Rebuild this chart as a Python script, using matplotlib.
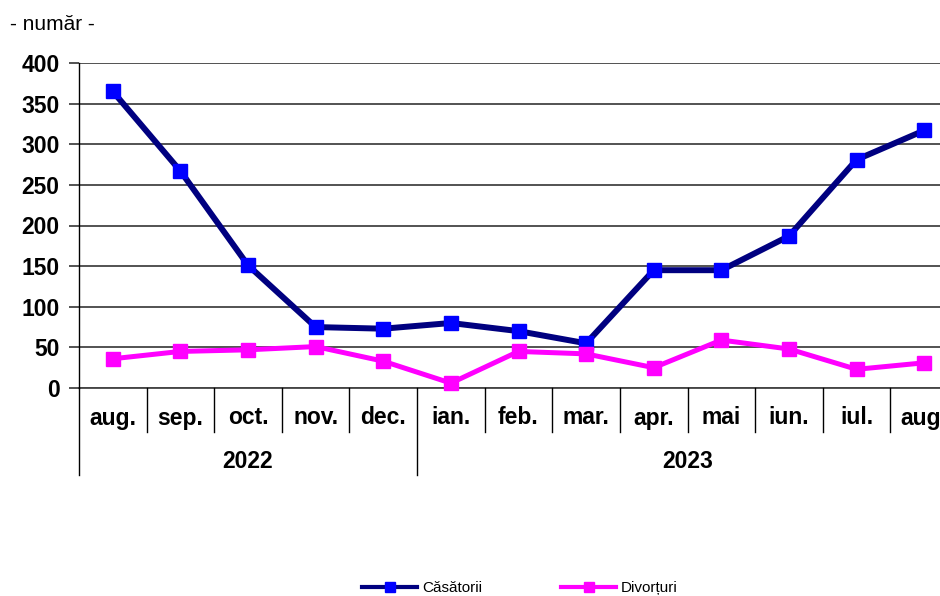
import matplotlib
matplotlib.use("Agg")
import matplotlib.pyplot as plt
from matplotlib.lines import Line2D
import matplotlib.transforms as mtransforms

plt.rcParams['font.family'] = ['Liberation Sans', 'DejaVu Sans']

# data
months = ['aug.', 'sep.', 'oct.', 'nov.', 'dec.', 'ian.', 'feb.', 'mar.',
          'apr.', 'mai', 'iun.', 'iul.', 'aug.']
years = ['2022', '2023']
year_spans = [(0, 4), (5, 12)]
casatorii = [365, 267, 151, 75, 73, 80, 70, 55, 145, 145, 187, 281, 317]
divorturi = [36, 45, 47, 51, 33, 6, 45, 42, 25, 59, 48, 23, 31]
yticks = [0, 50, 100, 150, 200, 250, 300, 350, 400]

W, H = 940, 596
fig = plt.figure(figsize=(W / 100, H / 100), dpi=100)
# axes runs a bit past the right edge, as in the reference
left, right, top, bottom = 79, 958, 63, 388
ax = fig.add_axes([left / W, 1 - bottom / H, (right - left) / W, (bottom - top) / H])

x = list(range(len(months)))
ax.plot(x, casatorii, color='#000080', lw=4.3, marker='s', ms=10,
        mfc='#0000ff', mec='#0000ff', zorder=3, clip_on=False)
ax.plot(x, divorturi, color='#ff00ff', lw=3.6, marker='s', ms=10,
        mfc='#ff00ff', mec='#ff00ff', zorder=3, clip_on=False)

ax.set_xlim(-0.5, len(months) - 0.5)
ax.set_ylim(0, 400)
ax.set_yticks(yticks)
ax.yaxis.grid(True, color='#444444', lw=1.3)
ax.set_axisbelow(True)
ax.tick_params(axis='y', length=7, width=1.3, color='#444444', labelsize=16.5, pad=7)
for lab in ax.get_yticklabels():
    lab.set_fontweight('bold')
ax.set_xticks([])
for s in ['top', 'right', 'bottom']:
    ax.spines[s].set_visible(False)
ax.spines['left'].set_color('black')
ax.spines['left'].set_linewidth(1.0)

# category axis with two levels
trans = mtransforms.blended_transform_factory(ax.transData, ax.transAxes)
px = 1.0 / (bottom - top)
ax.plot([-0.5, len(months) - 0.5], [0, 0], color='#444444', lw=1.3,
        transform=trans, clip_on=False)
ax.plot([-0.5, -0.5], [0, -(475 - bottom) * px], color='black', lw=1.0,
        transform=trans, clip_on=False)
for i in range(1, len(months)):
    y_end = -(432 - bottom) * px
    if i == year_spans[1][0]:
        y_end = -(475 - bottom) * px
    ax.plot([i - 0.5, i - 0.5], [0, y_end], color='black', lw=1.0,
            transform=trans, clip_on=False)
for i, m in enumerate(months):
    ax.text(i, -(418 - bottom) * px, m, transform=trans, ha='center', va='center',
            fontsize=16.5, fontweight='bold')
for yr, (a, b) in zip(years, year_spans):
    ax.text((a + b) / 2, -(461 - bottom) * px, yr, transform=trans, ha='center',
            va='center', fontsize=16.5, fontweight='bold')

fig.text(10 / W, 1 - 25 / H, '- număr -', fontsize=15, va='center', ha='left')

handles = [
    Line2D([], [], color='#000080', lw=3, marker='s', ms=7, mfc='#0000ff', mec='#0000ff'),
    Line2D([], [], color='#ff00ff', lw=3, marker='s', ms=7, mfc='#ff00ff', mec='#ff00ff'),
]
fig.legend(handles, ['Căsătorii', 'Divorțuri'], loc='center', ncol=2,
           bbox_to_anchor=(520 / W, 1 - 588 / H), frameon=False, fontsize=11,
           handlelength=3.6, handletextpad=0.3, columnspacing=5.2)

fig.savefig('out.png', dpi=100)
